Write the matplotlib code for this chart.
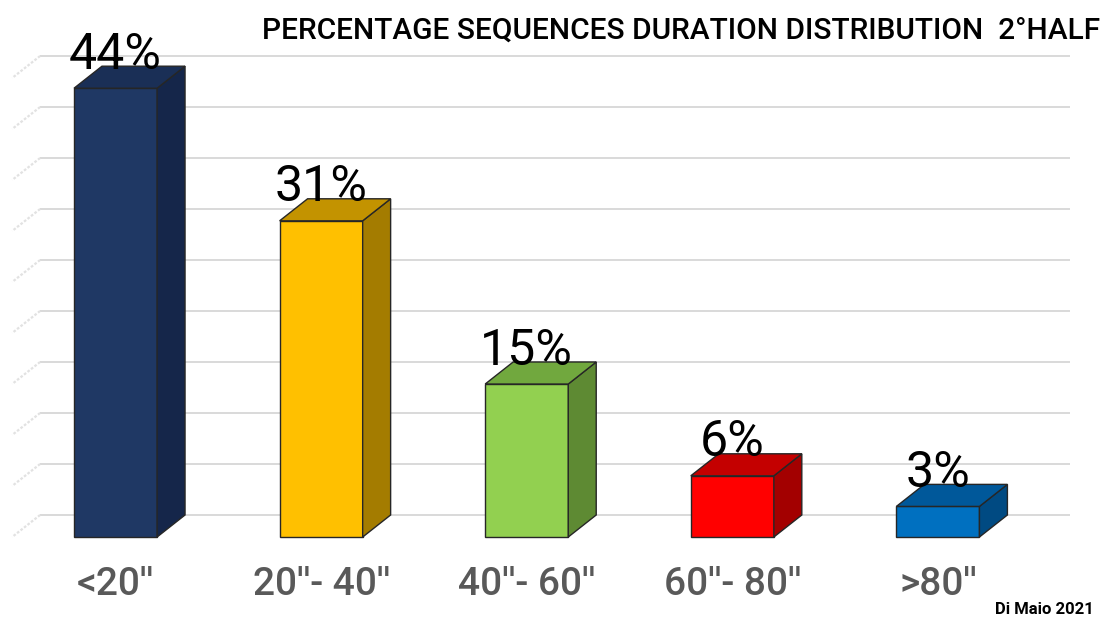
import matplotlib
matplotlib.use("Agg")
import matplotlib.pyplot as plt
from matplotlib.patches import Polygon

categories = ["<20''", "20''- 40''", "40''- 60''", "60''- 80''", ">80''"]
values = [44, 31, 15, 6, 3]
labels = ["44%", "31%", "15%", "6%", "3%"]
front_colors = ["#1F3864", "#FFC000", "#92D050", "#FF0000", "#0070C0"]
top_colors = ["#1A2F56", "#C39300", "#71A83E", "#C40000", "#00589A"]
side_colors = ["#15264A", "#A47C00", "#5E8A33", "#A30000", "#004A82"]
grid_levels = [0, 5, 10, 15, 20, 25, 30, 35, 40, 45]

fig = plt.figure(figsize=(11.10, 6.28), dpi=100)
ax = fig.add_axes([0, 0, 1, 1])
ax.set_xlim(-0.562, 4.837)
ax.set_ylim(-8.92, 52.65)
ax.axis("off")

bar_w = 0.404
dx = 0.136   # depth offset along x
dy = 2.16    # depth offset along y

# back wall grid lines and dotted side wall lines
x_left, x_right = -0.367, 4.642
for g in grid_levels:
    yb = g + dy
    ax.plot([x_left, x_right], [yb, yb], color="#D9D9D9", lw=1.4, zorder=1,
            solid_capstyle="butt")
    ax.plot([x_left, x_left - dx], [yb, g], color="#E2E2E2", lw=1.6,
            ls=(0, (1.2, 0.8)), zorder=1)

for i, v in enumerate(values):
    x0, x1 = i - bar_w / 2, i + bar_w / 2
    front = Polygon([(x0, 0), (x1, 0), (x1, v), (x0, v)], closed=True,
                    facecolor=front_colors[i], edgecolor="#262626", lw=1.0, zorder=3)
    top = Polygon([(x0, v), (x1, v), (x1 + dx, v + dy), (x0 + dx, v + dy)], closed=True,
                  facecolor=top_colors[i], edgecolor="#262626", lw=1.0, zorder=3)
    side = Polygon([(x1, 0), (x1 + dx, dy), (x1 + dx, v + dy), (x1, v)], closed=True,
                   facecolor=side_colors[i], edgecolor="#262626", lw=1.0, zorder=3)
    for p in (front, side, top):
        ax.add_patch(p)
    ax.text(i, v + 1.9, labels[i], ha="center", va="baseline", fontsize=36,
            family=["Roboto", "DejaVu Sans"], color="black", zorder=5)
    ax.text(i, -4.7, categories[i], ha="center", va="center", fontsize=28,
            family=["Roboto", "DejaVu Sans"], fontweight="medium", color="#595959", zorder=5)

fig.text(0.991, 0.952, "PERCENTAGE SEQUENCES DURATION DISTRIBUTION  2°HALF",
         ha="right", va="center", fontsize=21.5, family=["Roboto", "DejaVu Sans"],
         fontweight="medium", color="black")
fig.text(0.985, 0.018, "Di Maio 2021", ha="right", va="bottom", fontsize=12,
         family=["Roboto", "DejaVu Sans"], fontweight="bold", color="black")

fig.savefig("out.png", dpi=100)
